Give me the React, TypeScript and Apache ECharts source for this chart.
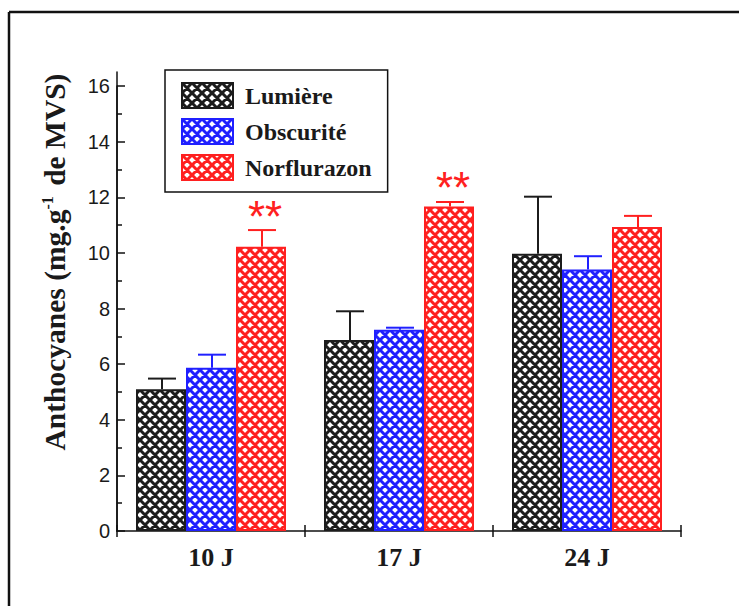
import React, { useEffect, useRef } from "react";
import * as echarts from "echarts";

const categories = ["10 J", "17 J", "24 J"];
const seriesNames = ["Lumière", "Obscurité", "Norflurazon"];
const lumiere = [5.1, 6.87, 9.97];
const lumiereErr = [0.38, 1.03, 2.05];
const obscurite = [5.87, 7.24, 9.4];
const obscuriteErr = [0.47, 0.07, 0.48];
const norflurazon = [10.22, 11.67, 10.93];
const norflurazonErr = [0.6, 0.16, 0.4];
const significance = ["**", "**", ""];
const yTicks = [0, 2, 4, 6, 8, 10, 12, 14, 16];

const colors = ["#1c1c1c", "#2020ff", "#ff2020"];
const SERIF = "'Liberation Serif', 'Times New Roman', serif";
const SANS = "'Liberation Sans', Arial, sans-serif";

function makePattern(color: string) {
  const size = 10;
  const c = document.createElement("canvas");
  c.width = size;
  c.height = size;
  const ctx = c.getContext("2d")!;
  ctx.fillStyle = "#ffffff";
  ctx.fillRect(0, 0, size, size);
  ctx.strokeStyle = color;
  ctx.lineWidth = 3;
  ctx.beginPath();
  for (const k of [-10, 0, 10]) {
    ctx.moveTo(k - 5, -5);
    ctx.lineTo(k + 15, 15);
  }
  for (const k of [0, 10, 20]) {
    ctx.moveTo(k + 5, -5);
    ctx.lineTo(k - 15, 15);
  }
  ctx.stroke();
  return { image: c, repeat: "repeat", imageWidth: size, imageHeight: size } as any;
}

export default function App() {
  const ref = useRef<HTMLDivElement>(null);
  useEffect(() => {
    if (!ref.current) return;
    const chart = echarts.init(ref.current, null, { renderer: "svg" });
    const values = [lumiere, obscurite, norflurazon];
    const errs = [lumiereErr, obscuriteErr, norflurazonErr];
    const barWidth = 50;

    const barSeries = values.map((vals, i) => ({
      type: "bar",
      name: seriesNames[i],
      data: vals,
      barWidth,
      barGap: "0%",
      xAxisIndex: 0,
      yAxisIndex: 0,
      itemStyle: {
        color: makePattern(colors[i]),
        borderColor: colors[i],
        borderWidth: 2,
      },
      z: 2,
    }));

    const errSeries = values.map((vals, i) => ({
      type: "custom",
      name: seriesNames[i] + " err",
      xAxisIndex: 0,
      yAxisIndex: 0,
      z: 3,
      data: vals.map((v, j) => [j, v, errs[i][j]]),
      renderItem: (params: any, api: any) => {
        const cat = api.value(0);
        const v = api.value(1);
        const e = api.value(2);
        const label = i === 2 ? significance[cat] : "";
        const base = api.coord([cat, v]);
        const top = api.coord([cat, v + e]);
        const x = base[0] + (i - 1) * barWidth + 1;
        const capHalf = 14;
        const children: any[] = [
          {
            type: "line",
            shape: { x1: x, y1: base[1], x2: x, y2: top[1] },
            style: { stroke: colors[i], lineWidth: 2 },
          },
          {
            type: "line",
            shape: { x1: x - capHalf, y1: top[1], x2: x + capHalf, y2: top[1] },
            style: { stroke: colors[i], lineWidth: 2 },
          },
        ];
        if (label) {
          children.push({
            type: "text",
            x: x + 3,
            y: top[1] + 8,
            style: {
              text: label,
              fill: colors[i],
              font: `44px ${SANS}`,
              align: "center",
              verticalAlign: "bottom",
            },
          });
        }
        return { type: "group", children };
      },
    }));

    chart.setOption({
      animation: false,
      backgroundColor: "#ffffff",
      grid: [
        { left: 117, right: 58, top: 86, bottom: 75, containLabel: false },
        { left: 117, right: 58, top: 72, bottom: 75, containLabel: false },
      ],
      legend: {
        data: seriesNames,
        orient: "vertical",
        left: 165,
        top: 70,
        padding: [12, 16, 11, 16],
        borderColor: "#111",
        borderWidth: 1.5,
        itemWidth: 51,
        itemHeight: 25,
        itemGap: 9,
        icon: "rect",
        textStyle: {
          fontFamily: SERIF,
          fontWeight: "bold",
          fontSize: 24,
          color: "#1a1a1a",
          padding: [0, 0, 0, 7],
        },
      },
      xAxis: [
        {
          type: "category",
          data: categories,
          gridIndex: 0,
          position: "bottom",
          axisLine: { lineStyle: { color: "#111", width: 1.5 } },
          axisTick: { show: true, inside: true, length: 6, lineStyle: { color: "#111", width: 1.5 } },
          axisLabel: {
            fontFamily: SERIF,
            fontWeight: "bold",
            fontSize: 26,
            color: "#1a1a1a",
            margin: 13,
          },
        },
        {
          type: "category",
          data: categories,
          gridIndex: 0,
          position: "bottom",
          axisLine: { show: false },
          axisTick: { show: true, inside: false, length: 6, lineStyle: { color: "#111", width: 1.5 } },
          axisLabel: { show: false },
        },
        { type: "category", data: categories, gridIndex: 1, show: false },
      ],
      yAxis: [
        {
          type: "value",
          gridIndex: 0,
          min: 0,
          max: 16,
          interval: 2,
          axisLine: { show: true, lineStyle: { color: "#111", width: 1.5 } },
          axisTick: { show: true, inside: true, length: 8, lineStyle: { color: "#111", width: 1.5 } },
          minorTick: { show: true, splitNumber: 2, length: 5, lineStyle: { color: "#111", width: 1.5 } },
          splitLine: { show: false },
          axisLabel: {
            fontFamily: SANS,
            fontSize: 20,
            color: "#1a1a1a",
            margin: 7,
            formatter: (v: number) => (yTicks.includes(v) ? String(v) : ""),
          },
        },
        {
          type: "value",
          gridIndex: 1,
          min: 0,
          max: 1,
          axisLine: { show: true, lineStyle: { color: "#111", width: 1.5 } },
          axisTick: { show: false },
          axisLabel: { show: false },
          splitLine: { show: false },
        },
      ],
      graphic: [
        {
          type: "line",
          shape: { x1: 9, y1: 12, x2: 739, y2: 12 },
          style: { stroke: "#111", lineWidth: 2.5 },
        },
        {
          type: "line",
          shape: { x1: 9, y1: 12, x2: 9, y2: 606 },
          style: { stroke: "#111", lineWidth: 2.5 },
        },
        {
          type: "text",
          x: 55,
          y: 262,
          rotation: Math.PI / 2,
          style: {
            text: "{a|Anthocyanes (mg.g}{s|-1}{a| de MVS)}",
            align: "center",
            verticalAlign: "middle",
            fill: "#1a1a1a",
            rich: {
              a: { fontFamily: SERIF, fontWeight: "bold", fontSize: 29.5, fill: "#1a1a1a" },
              s: { fontFamily: SERIF, fontWeight: "bold", fontSize: 16, fill: "#1a1a1a", padding: [0, 3, 16, 0] },
            },
          },
        },
      ],
      series: [...barSeries, ...errSeries],
    });
    return () => chart.dispose();
  }, []);
  return (
    <div
      ref={ref}
      style={{ position: "fixed", left: 0, top: 0, width: 739, height: 606, background: "#fff" }}
    />
  );
}
